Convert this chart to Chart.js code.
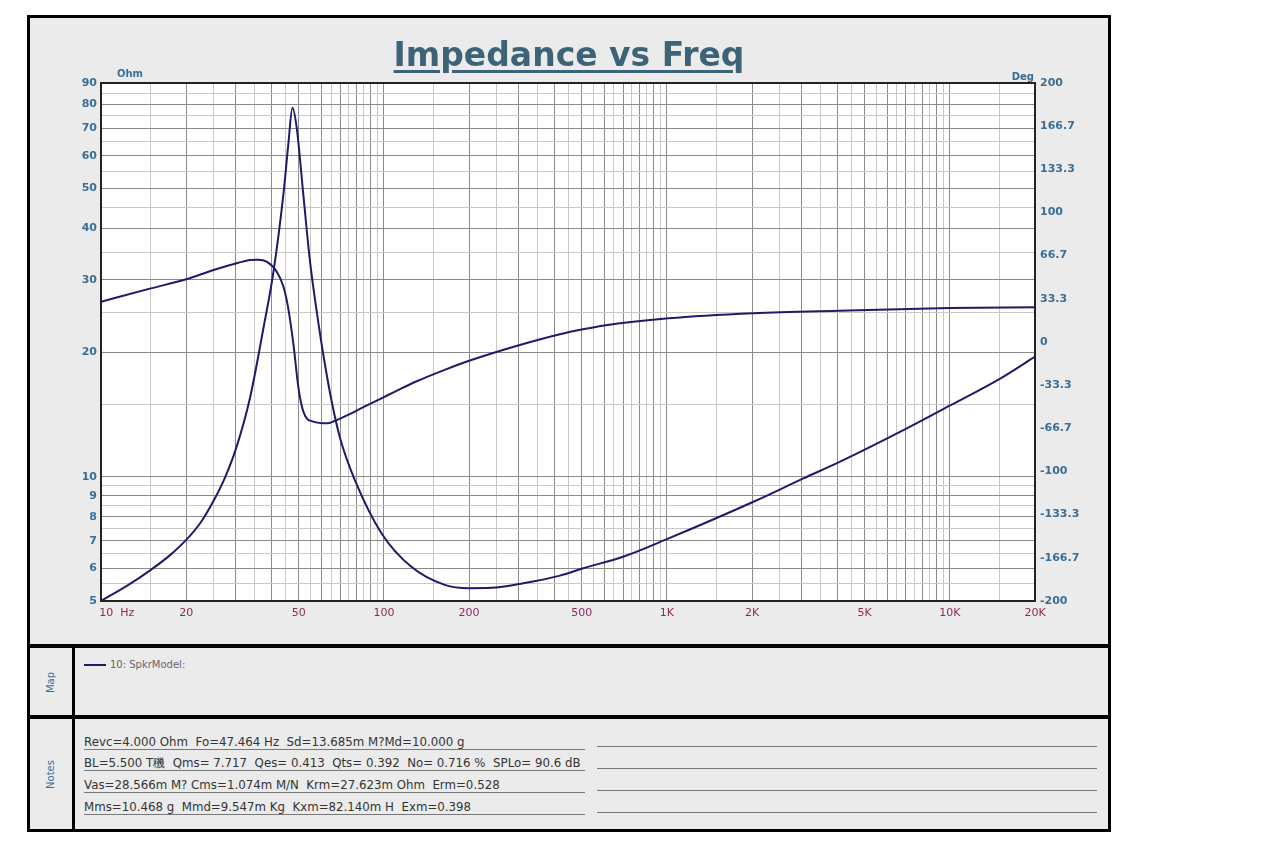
<!DOCTYPE html>
<html>
<head>
<meta charset="utf-8">
<script src="https://cdn.jsdelivr.net/npm/chart.js@4.4.1/dist/chart.umd.min.js"></script>
<style>
  body { margin: 0; background: #fff; width: 1280px; height: 853px; position: relative; overflow: hidden; font-family: "DejaVu Sans", sans-serif; }
  .box { position: absolute; box-sizing: border-box; background: #ebebeb; }
  #frame { left: 27px; top: 15px; width: 1084px; height: 817px; border: 3px solid #000; background: #000; }
  #chartPanel { left: 30px; top: 18px; width: 1078px; height: 626px; }
  #mapPanel { left: 75px; top: 648px; width: 1033px; height: 67px; }
  #mapSide { left: 30px; top: 648px; width: 42px; height: 67px; }
  #notesPanel { left: 75px; top: 719px; width: 1033px; height: 110px; }
  #notesSide { left: 30px; top: 719px; width: 42px; height: 110px; }
  #title { position: absolute; left: 27px; width: 1084px; top: 35px; text-align: center;
           font: bold 33px/40px "DejaVu Sans", sans-serif; color: #3d6379; text-decoration: underline;
           text-decoration-thickness: 3px; text-underline-offset: 4px; }
  canvas { position: absolute; left: 0; top: 0; }
  .side { position: absolute; font: 10px "DejaVu Sans", sans-serif; color: #3a6e96; transform: rotate(-90deg); transform-origin: center; white-space: nowrap; }
  .legendLine { position: absolute; left: 84px; top: 664px; width: 22px; height: 2px; background: #1c1c6a; }
  .legendText { position: absolute; left: 110px; top: 659px; font: 10px "DejaVu Sans", sans-serif; color: #666; }
  .note { position: absolute; left: 84px; width: 501px; height: 13px; border-bottom: 1px solid #777;
          font: 11.8px/13px "DejaVu Sans", sans-serif; color: #333; white-space: pre; }
  .blank { position: absolute; left: 597px; width: 500px; height: 13px; border-bottom: 1px solid #777; }
</style>
</head>
<body>
<div id="frame" class="box"></div>
<div id="chartPanel" class="box"></div>
<div id="mapSide" class="box"></div>
<div id="mapPanel" class="box"></div>
<div id="notesSide" class="box"></div>
<div id="notesPanel" class="box"></div>

<canvas id="impedance" width="1280" height="645"></canvas>
<div id="title">Impedance vs Freq</div>

<div class="side" style="left:35px; top:677px; width:30px; text-align:center;">Map</div>
<div class="side" style="left:30px; top:769px; width:40px; text-align:center;">Notes</div>
<div class="legendLine"></div>
<div class="legendText">10: SpkrModel:</div>

<div class="note" style="top:736px;">Revc=4.000 Ohm  Fo=47.464 Hz  Sd=13.685m M?Md=10.000 g</div>
<div class="note" style="top:757px;">BL=5.500 T穖  Qms= 7.717  Qes= 0.413  Qts= 0.392  No= 0.716 %  SPLo= 90.6 dB</div>
<div class="note" style="top:779px;">Vas=28.566m M? Cms=1.074m M/N  Krm=27.623m Ohm  Erm=0.528</div>
<div class="note" style="top:801px;">Mms=10.468 g  Mmd=9.547m Kg  Kxm=82.140m H  Exm=0.398</div>
<div class="blank" style="top:733px;"></div>
<div class="blank" style="top:755px;"></div>
<div class="blank" style="top:777px;"></div>
<div class="blank" style="top:799px;"></div>

<script>
// impedance magnitude (Hz, Ohm)
const zFreq = [10, 12.5, 15, 17.5, 20, 22.5, 25, 27.5, 30, 33.6, 37.5, 40.7, 44.1, 45.9, 47.5,
  49.2, 51.9, 54.8, 57.9, 61.1, 65.4, 70, 79, 98, 125, 164, 200, 240, 311, 419, 506, 700, 1014,
  2023, 3038, 4094, 7047, 10106, 15066, 20000];
const zOhm = [5.0, 5.47, 5.95, 6.45, 7.03, 7.75, 8.75, 10.0, 11.7, 15.5, 22.9, 31.4, 48.2, 63.7, 78.4,
  69.9, 48.2, 33.2, 25.1, 19.7, 15.2, 12.4, 9.8, 7.3, 6.05, 5.47, 5.37, 5.38, 5.52, 5.76, 6.0, 6.4, 7.09,
  8.70, 9.91, 10.88, 13.1, 14.93, 17.3, 19.55];

// phase (Hz, Deg)
const phFreq = [10, 15, 20, 25, 30.6, 33.6, 36, 38.5, 41.8, 44.1, 45.9, 47.9, 49.9, 51.9, 56.3, 62.9,
  67.2, 76, 83.3, 100, 109, 130, 164, 200, 300, 419, 500, 600, 1014, 2023, 4094, 10000, 20000];
const phDeg = [31.1, 41.4, 48.4, 55.6, 61.2, 63.3, 63.6, 62, 54.3, 43, 26, -2.3, -35.8, -53.8, -61.5, -62.8,
  -60.8, -55.5, -51, -42.5, -38.5, -30.5, -21.5, -14.5, -2.5, 6.0, 9.6, 12.8, 18.3, 22.2, 24.2, 26.2, 26.8];

// axis labels
const freqTickValues = [10, 20, 50, 100, 200, 500, 1000, 2000, 5000, 10000, 20000];
const freqTickLabels = ['         10  Hz', '20', '50', '100', '200', '500', '1K', '2K', '5K', '10K', '20K'];
const ohmTickValues = [5, 6, 7, 8, 9, 10, 20, 30, 40, 50, 60, 70, 80, 90];
const degTickLabels = ['-200', '-166.7', '-133.3', '-100', '-66.7', '-33.3', '0', '33.3', '66.7', '100', '133.3', '166.7', '200'];

const LINE = '#1c1c6a';
const BLUE = '#3a6e96';
const RED = '#8b2a5a';

// grid every half step of each decade
function halfSteps(lo, hi) {
  let out = [];
  for (let d = Math.pow(10, Math.floor(Math.log10(lo))); d <= hi; d *= 10) {
    for (let m = 1; m < 10; m += 0.5) {
      let v = d * m;
      if (v >= lo - 1e-9 && v <= hi + 1e-9) out.push(v);
    }
  }
  if (out[out.length - 1] < hi) out.push(hi);
  return out;
}
function isMajor(v) {
  let d = Math.pow(10, Math.floor(Math.log10(v) + 1e-9));
  let r = v / d;
  return Math.abs(r - Math.round(r)) < 1e-6;
}

const freqGrid = halfSteps(10, 20000);
const ohmGrid = [5, 5.5, 6, 6.5, 7, 7.5, 8, 8.5, 9, 9.5, 10, 15, 20, 25, 30, 35, 40, 45, 50, 55, 60, 65, 70, 75, 80, 85, 90];

const plotFrame = {
  id: 'plotFrame',
  beforeDraw(chart) {
    const a = chart.chartArea, ctx = chart.ctx;
    ctx.save();
    ctx.fillStyle = '#fff';
    ctx.fillRect(a.left, a.top, a.right - a.left, a.bottom - a.top);
    ctx.restore();
  },
  afterDraw(chart) {
    const a = chart.chartArea, ctx = chart.ctx;
    ctx.save();
    ctx.strokeStyle = '#222';
    ctx.lineWidth = 2;
    ctx.strokeRect(a.left, a.top, a.right - a.left, a.bottom - a.top);
    ctx.fillStyle = BLUE;
    ctx.font = 'bold 10px "DejaVu Sans"';
    ctx.textBaseline = 'bottom';
    ctx.textAlign = 'left';
    ctx.fillText('Ohm', a.left + 16, a.top - 4);
    ctx.textAlign = 'right';
    ctx.fillText('Deg', a.right - 1, a.top - 1);
    ctx.restore();
  }
};

const gridColor = (c) => (c.tick && isMajor(c.tick.value)) ? '#8a8a8a' : '#c8c8c8';

new Chart(document.getElementById('impedance'), {
  type: 'line',
  data: {
    datasets: [
      {
        label: 'Impedance',
        data: zFreq.map((f, i) => ({ x: f, y: zOhm[i] })),
        yAxisID: 'yz',
        borderColor: LINE,
        borderWidth: 2,
        pointRadius: 0,
        cubicInterpolationMode: 'monotone'
      },
      {
        label: 'Phase',
        data: phFreq.map((f, i) => ({ x: f, y: phDeg[i] })),
        yAxisID: 'yp',
        borderColor: LINE,
        borderWidth: 2,
        pointRadius: 0,
        cubicInterpolationMode: 'monotone'
      }
    ]
  },
  options: {
    responsive: false,
    animation: false,
    devicePixelRatio: 1,
    layout: { padding: { left: 40, right: 185, top: 83, bottom: 14 } },
    plugins: { legend: { display: false }, tooltip: { enabled: false }, title: { display: false } },
    scales: {
      x: {
        type: 'logarithmic',
        min: 10,
        max: 20000,
        afterBuildTicks: (s) => { s.ticks = freqGrid.map(v => ({ value: v })); },
        afterFit: (s) => { s.height = 30; },
        grid: { color: gridColor, drawTicks: false },
        border: { display: false },
        ticks: {
          autoSkip: false, maxRotation: 0, padding: 6, color: RED,
          font: { family: 'DejaVu Sans', size: 11 },
          callback: (v) => { let i = freqTickValues.indexOf(v); return i < 0 ? '' : freqTickLabels[i]; }
        }
      },
      yz: {
        type: 'logarithmic',
        position: 'left',
        min: 5,
        max: 90,
        afterBuildTicks: (s) => { s.ticks = ohmGrid.map(v => ({ value: v })); },
        afterFit: (s) => { s.width = 61; },
        grid: { color: gridColor, drawTicks: false },
        border: { display: false },
        ticks: {
          autoSkip: false, padding: 4, color: BLUE,
          font: { family: 'DejaVu Sans', size: 11, weight: 'bold' },
          callback: (v) => ohmTickValues.includes(v) ? String(v) : ''
        }
      },
      yp: {
        type: 'linear',
        position: 'right',
        min: -200,
        max: 200,
        afterBuildTicks: (s) => { s.ticks = degTickLabels.map(l => ({ value: parseFloat(l) })); },
        afterFit: (s) => { s.width = 60; },
        grid: { drawOnChartArea: false, drawTicks: false },
        border: { display: false },
        ticks: {
          autoSkip: false, padding: 5, color: BLUE,
          font: { family: 'DejaVu Sans', size: 11, weight: 'bold' },
          callback: (v, i) => degTickLabels[i]
        }
      }
    }
  },
  plugins: [plotFrame]
});
</script>
</body>
</html>
